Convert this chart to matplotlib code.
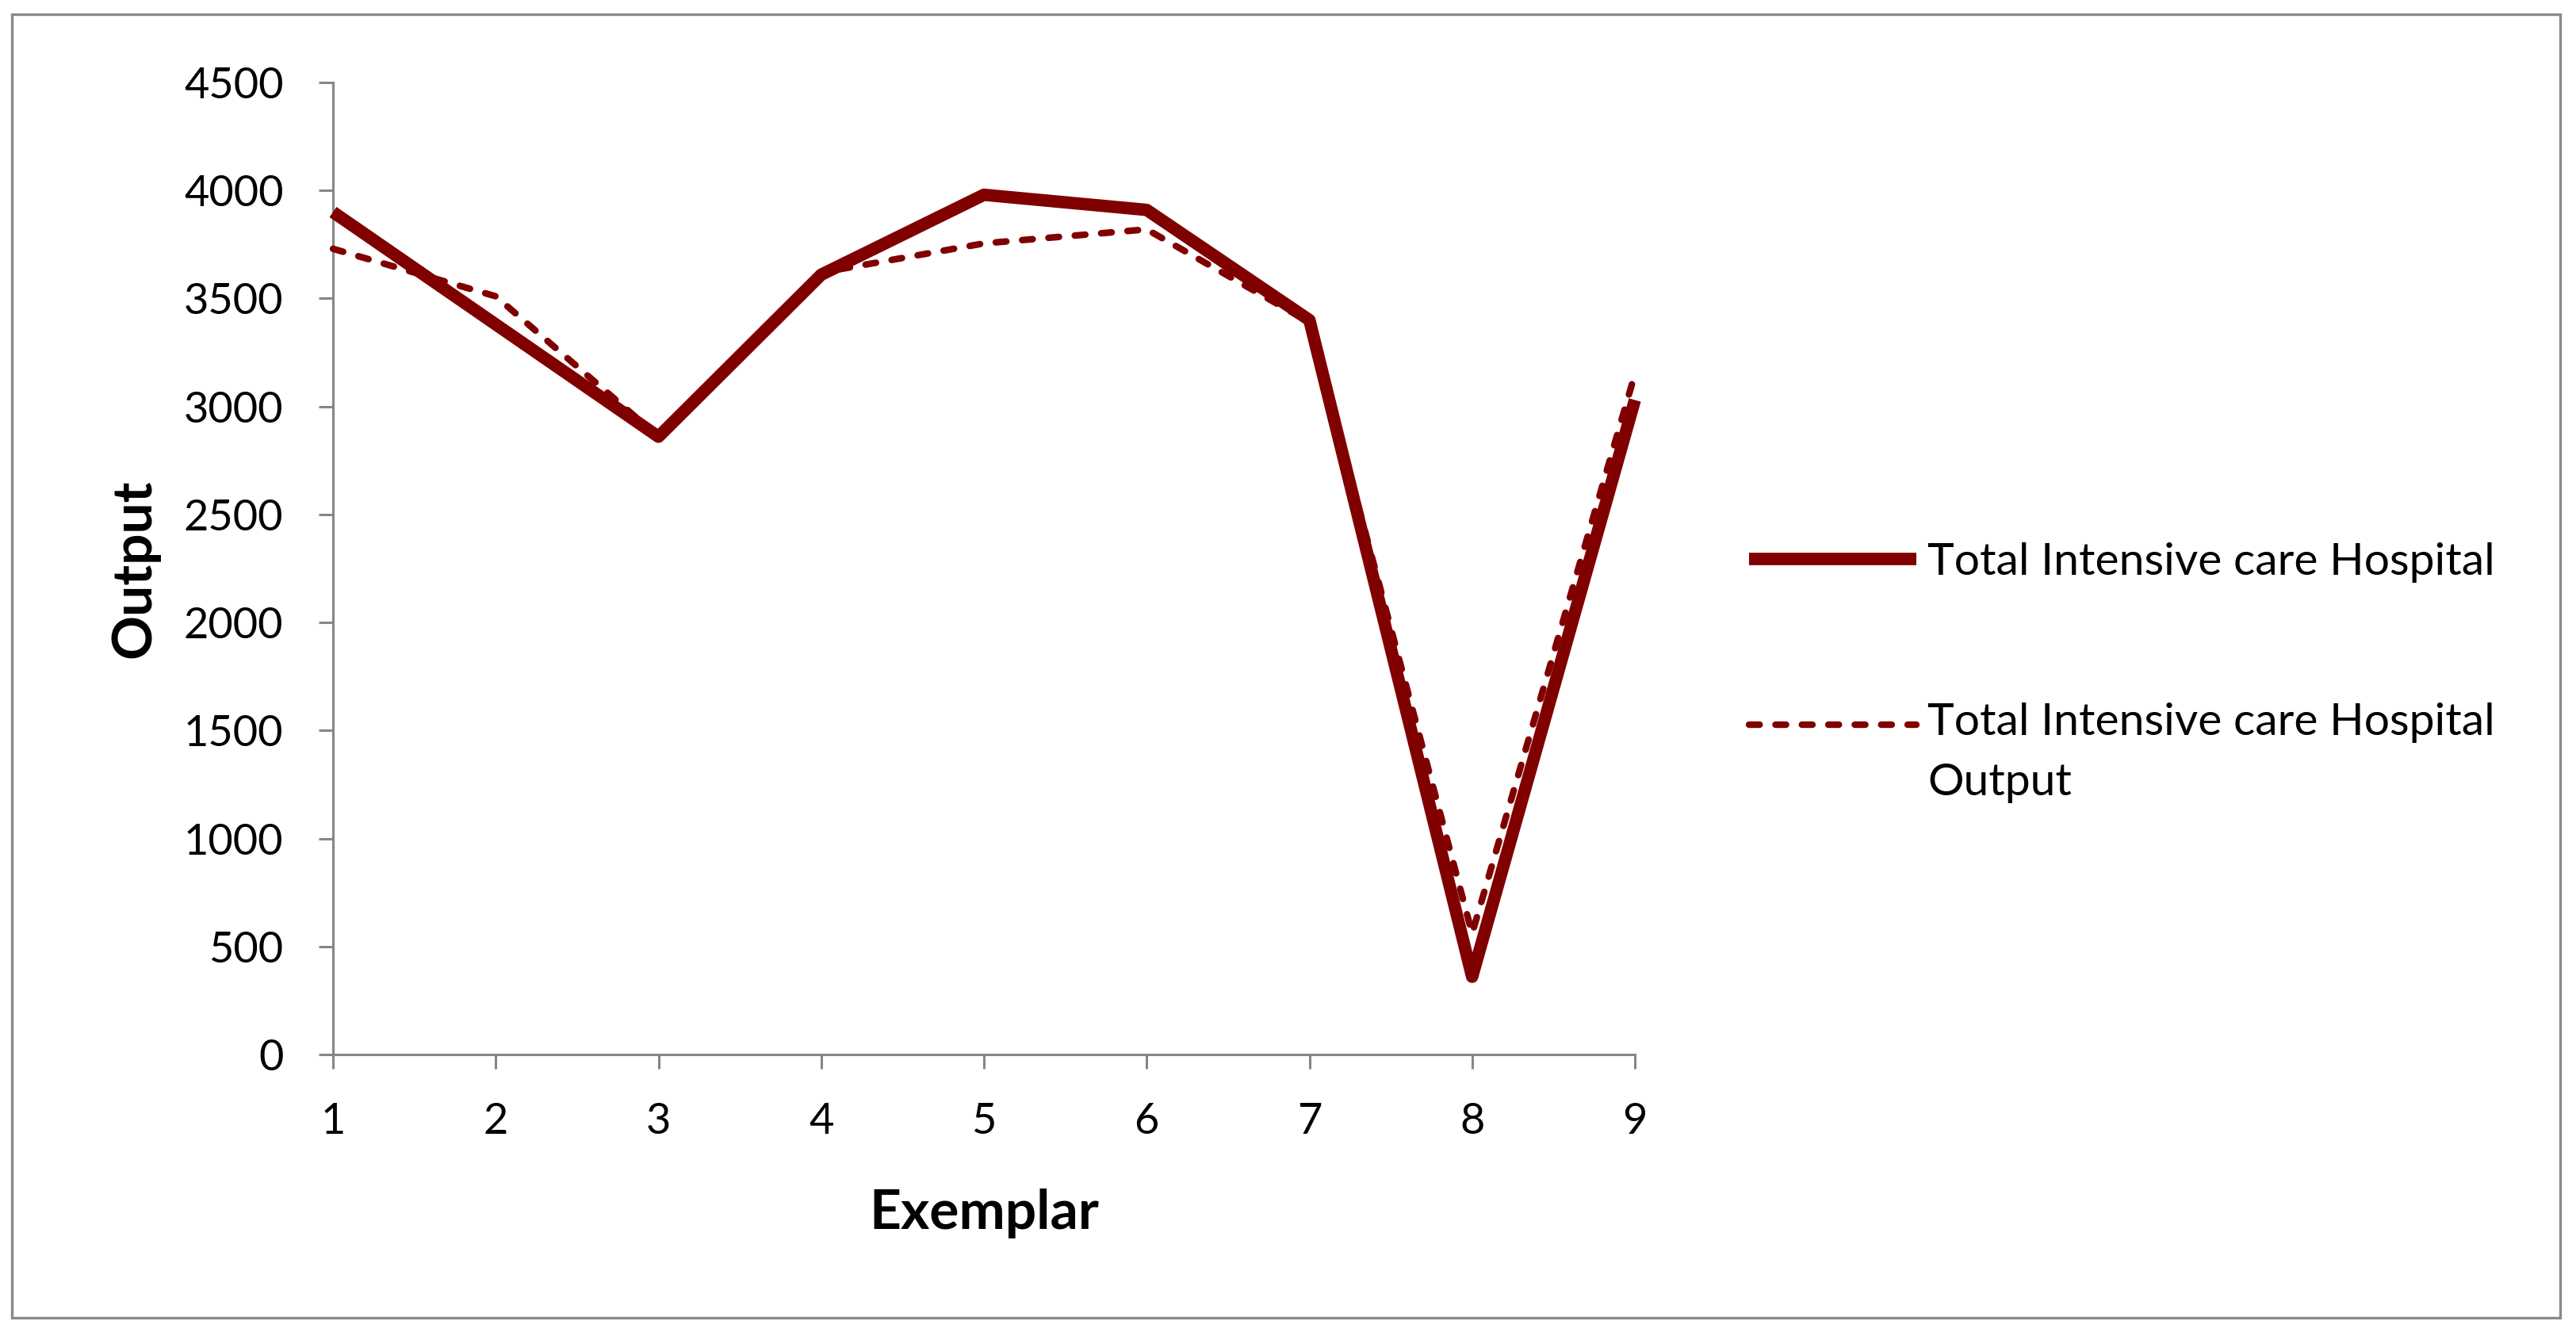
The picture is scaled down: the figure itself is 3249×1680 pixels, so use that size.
import numpy as np
import matplotlib
matplotlib.use("Agg")
import matplotlib.pyplot as plt
from matplotlib.patches import Rectangle

# values
exemplar = [1, 2, 3, 4, 5, 6, 7, 8, 9]
total_icu = [3900, 3380, 2860, 3610, 3980, 3910, 3400, 360, 3030]
total_icu_output = [3730, 3510, 2860, 3620, 3755, 3820, 3390, 560, 3150]
y_ticks = [0, 500, 1000, 1500, 2000, 2500, 3000, 3500, 4000, 4500]

label_solid = "Total Intensive care Hospital"
label_dashed = "Total Intensive care Hospital\nOutput"

maroon = "#800000"
axis_grey = "#868686"

plt.rcParams["font.family"] = ["Lato", "DejaVu Sans"]

fig = plt.figure(figsize=(32.49, 16.80), dpi=100)
fig.patch.set_facecolor("white")

# chart-area border
fig.patches.append(Rectangle((15 / 3249, 1 - 1662 / 1680), (3229 - 15) / 3249, (1662 - 18) / 1680,
                             transform=fig.transFigure, fill=False,
                             edgecolor="#898989", linewidth=2.4))

ax = fig.add_axes([420 / 3249, 1 - 1330 / 1680, (2062 - 420) / 3249, (1330 - 104) / 1680])

ax.plot(exemplar, total_icu, color=maroon, linewidth=11.3,
        solid_joinstyle="round", solid_capstyle="butt", label=label_solid,
        zorder=3, clip_on=False)
ax.plot(exemplar, total_icu_output, color=maroon, linewidth=6.0,
        linestyle=(0, (1.6, 2.4)), dash_capstyle="round", dash_joinstyle="round",
        label=label_dashed, zorder=4, clip_on=False)

ax.set_xlim(1, 9)
ax.set_ylim(0, 4500)
ax.set_xticks(exemplar)
ax.set_yticks(y_ticks)

for side in ["top", "right"]:
    ax.spines[side].set_visible(False)
for side in ["left", "bottom"]:
    ax.spines[side].set_color(axis_grey)
    ax.spines[side].set_linewidth(2.2)

ax.tick_params(axis="both", direction="out", length=13, width=2.2, color=axis_grey,
               labelsize=39, labelcolor="black")
ax.tick_params(axis="y", pad=32)
ax.tick_params(axis="x", pad=30)

ax.set_xlabel("Exemplar", fontsize=50, fontweight="bold")
ax.set_ylabel("Output", fontsize=50, fontweight="bold")
ax.xaxis.set_label_coords(0.5, -0.138)
ax.yaxis.set_label_coords(-0.133, 0.5)

leg = ax.legend(loc="upper left", bbox_to_anchor=(2206 / 3249, 1 - 684 / 1680),
                bbox_transform=fig.transFigure, frameon=False, fontsize=41,
                handlelength=3.7, handletextpad=0.25, labelspacing=2.65,
                borderpad=0, borderaxespad=0)
for txt in leg.get_texts():
    txt.set_linespacing(1.6)
# keep the dashed key level with the first line of its two-line label
dashed_key = leg.legend_handles[1]
dashed_key.set_ydata(np.asarray(dashed_key.get_ydata()) + 26)

fig.savefig("out.png", dpi=100, facecolor="white")
